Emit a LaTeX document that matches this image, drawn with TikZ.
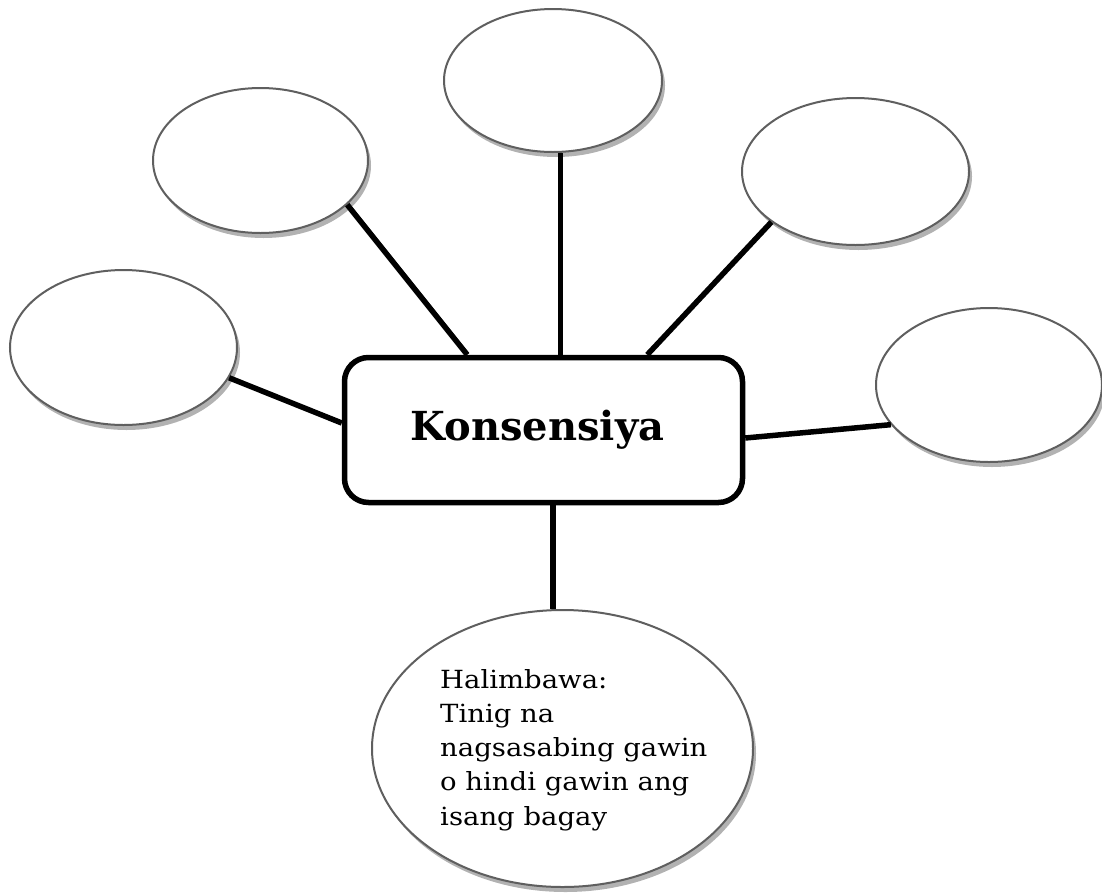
\documentclass[tikz,border=0pt]{standalone}
\usepackage{fontspec}
\setmainfont{DejaVu Serif}
\newfontfamily\bodyfont[FakeStretch=1.1]{DejaVu Serif}
\usetikzlibrary{shapes.geometric,shadows,calc}
\tikzset{
  bubble/.style={ellipse, draw={rgb,255:red,95;green,95;blue,95}, line width=2pt, fill=white, inner sep=0pt,
    drop shadow={shadow xshift=3pt, shadow yshift=-5pt, fill=black!30, opacity=1}},
  hub/.style={rectangle, draw=black, line width=5.5pt, rounded corners=24pt, fill=white,
    minimum width=398pt, minimum height=145pt, inner sep=0pt},
  spoke/.style={draw=black, line width=5.5pt}
}
\begin{document}
\begin{tikzpicture}[x=1pt,y=-1pt]
\useasboundingbox (0,0) rectangle (1102,892);
% ellipses
\node[bubble, minimum width=218pt, minimum height=143pt] (t)  at (553,80.5)  {};
\node[bubble, minimum width=215pt, minimum height=145pt] (ul) at (260.5,160.5) {};
\node[bubble, minimum width=227pt, minimum height=147pt] (ur) at (855.5,171.5) {};
\node[bubble, minimum width=227pt, minimum height=155pt] (l)  at (123.5,347.5) {};
\node[bubble, minimum width=226pt, minimum height=154pt] (r)  at (989,385) {};
\node[bubble, minimum width=381pt, minimum height=277pt] (b)  at (562.5,748.5) {};
% hub
\node[hub] (box) at (543.5,430) {\hspace*{-12pt}\fontsize{40}{46}\selectfont\bfseries Konsensiya};
% spokes
\draw[spoke] (ul.-27.8) -- ($(box.north west)+(125.5,0)$);
\draw[spoke] (t.-84.4) -- (t.-84.4 |- box.north);
\draw[spoke] (ur.-149.4) -- ($(box.north west)+(305.5,0)$);
\draw[spoke] (l.-16.7) -- ($(box.west)+(0,-7)$);
\draw[spoke] (r.202.9) -- ($(box.east)+(0,8)$);
\draw[spoke] (b.94.7) -- (b.94.7 |- box.south);
% text in bottom ellipse
\node[anchor=base west, inner sep=0pt, align=left, font=\bodyfont\fontsize{25}{34.2}\selectfont] (btxt) at (440,825)
  {Halimbawa:\\Tinig na\\nagsasabing gawin\\o hindi gawin ang\\isang bagay};
\end{tikzpicture}
\end{document}
